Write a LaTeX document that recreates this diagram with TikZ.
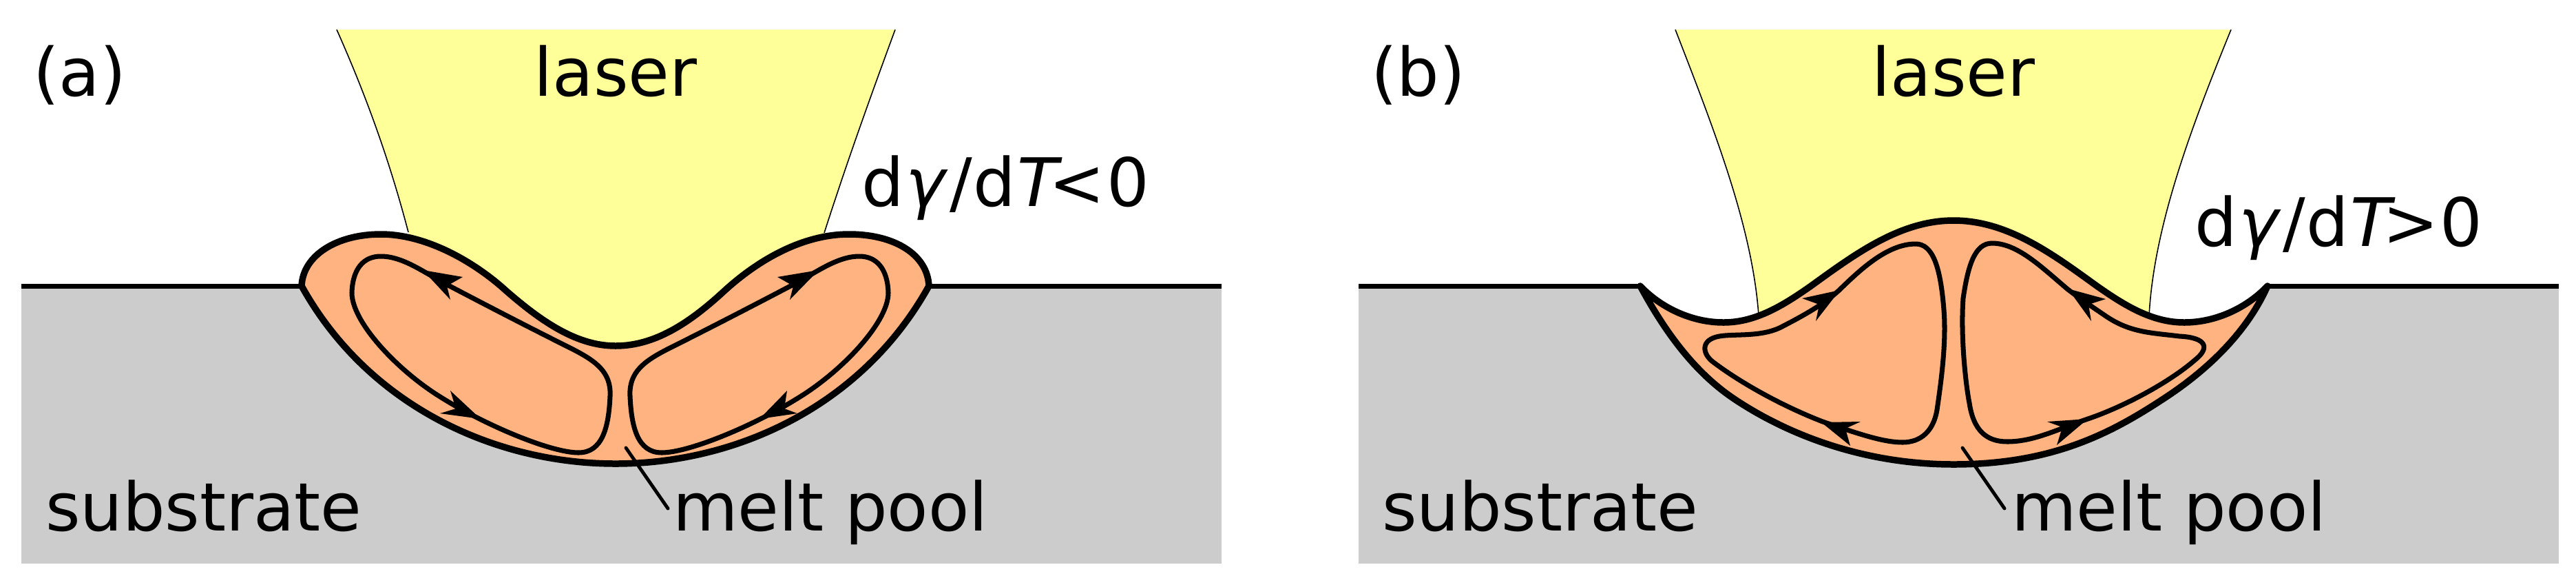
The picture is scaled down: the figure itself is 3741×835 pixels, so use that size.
\documentclass[tikz,border=0pt]{standalone}
\usepackage{fontspec}
\setmainfont{DejaVu Sans}
\definecolor{beamc}{HTML}{FFFF99}
\definecolor{poolc}{HTML}{FFB380}
\definecolor{subc}{HTML}{CCCCCC}
\newcommand{\dgdt}[1]{d\kern0.8pt\textit{γ}\kern0.6pt/\kern0.6pt d\kern0.6pt\textit{T}\kern-5.5pt#1\kern0.6pt0}
\tikzset{
  lbl/.style={font=\fontsize{27.6pt}{30pt}\selectfont,inner sep=0pt,outer sep=0pt,text=black},
  subst/.style={fill=subc,draw=none},
  surf/.style={draw=black,line width=2.0pt},
  beam/.style={fill=beamc,draw=none},
  beamedge/.style={draw=black,line width=0.45pt},
  pool/.style={fill=poolc,draw=black,line width=2.7pt,line join=round},
  flow/.style={draw=black,line width=2.0pt,line join=round},
  head/.style={fill=black,draw=none},
  leader/.style={draw=black,line width=1.4pt,line cap=round}
}
\begin{document}
\begin{tikzpicture}[x=0.01cm,y=-0.01cm]
\useasboundingbox (0,0) rectangle (3741,835);
% ---------- panel (a)
\fill[subst] (31,415) rectangle (1774,818);
\draw[surf] (31,415) -- (438,415);
\draw[surf] (1349,415) -- (1774,415);
\fill[beam] (489,43) -- (1300,43) .. controls (1265,138) and (1230,235) .. (1197,338) -- (1197,510) -- (593,510) -- (593,337) .. controls (565,230) and (530,135) .. (489,43) -- cycle;
\draw[beamedge] (489,43) .. controls (530,135) and (565,230) .. (593,337);
\draw[beamedge] (1300,43) .. controls (1265,138) and (1230,235) .. (1197,338);
\draw[pool] (438,415) .. controls (440,370) and (490,340) .. (553,340)
  .. controls (620,340) and (690,381) .. (735,422)
  .. controls (790,470) and (840,502) .. (894,502)
  .. controls (950,502) and (1000,470) .. (1051,423)
  .. controls (1100,378) and (1165,340) .. (1233,340)
  .. controls (1300,340) and (1347,370) .. (1349,415)
  .. controls (1252,590) and (1068,673) .. (894,673)
  .. controls (720,673) and (535,590) .. (438,415) -- cycle;
\draw[flow] (553,372) .. controls (528,372) and (512,390) .. (511,425)
  .. controls (511,465) and (570,530) .. (630,570)
  .. controls (700,616) and (800,657) .. (840,657)
  .. controls (875,657) and (884,620) .. (886,575)
  .. controls (888,540) and (865,524) .. (832,507)
  .. controls (770,476) and (710,445) .. (649,413)
  .. controls (615,395) and (585,372) .. (553,372) -- cycle;
\draw[flow] (1248,372) .. controls (1273,372) and (1289,390) .. (1290,425)
  .. controls (1290,465) and (1231,530) .. (1171,570)
  .. controls (1101,616) and (1001,657) .. (961,657)
  .. controls (926,657) and (917,620) .. (915,575)
  .. controls (913,540) and (936,524) .. (969,507)
  .. controls (1031,476) and (1091,445) .. (1152,413)
  .. controls (1186,395) and (1216,372) .. (1248,372) -- cycle;
\fill[head] (614,392) -- (672,402) -- (649,415) -- (654,435) -- cycle;
\fill[head] (698,608) -- (654,567) -- (662,593) -- (639,600) -- cycle;
\fill[head] (1189,392) -- (1129,402) -- (1152,415) -- (1147,435) -- cycle;
\fill[head] (1103,608) -- (1143,567) -- (1139,593) -- (1158,600) -- cycle;
\coordinate (leadAa) at (909,650);
\coordinate (leadAb) at (970,738);
\draw[leader] (leadAa) -- (leadAb);
\node[lbl,anchor=base west] (tagA) at (48,139) {(a)};
\node[lbl,anchor=base] (laserA) at (894,139) {laser};
\node[lbl,anchor=base west] (condA) at (1251,299) {\dgdt{<}};
\node[lbl,anchor=base west] (subA) at (66,770) {substrate};
\node[lbl,anchor=base west] (meltA) at (977,770) {melt pool};
% ---------- panel (b)
\fill[subst] (1973,415) rectangle (3716,818);
\fill[white] (3293,415) .. controls (3262,485) and (3202,540) .. (3140,580)
  .. controls (3065,629) and (2980,674) .. (2837,674)
  .. controls (2710,674) and (2600,633) .. (2520,580)
  .. controls (2470,547) and (2425,495) .. (2382,415) -- (2382,410) -- (3293,410) -- cycle;
\draw[surf] (1973,415) -- (2382,415);
\draw[surf] (3293,415) -- (3716,415);
\fill[beam] (2433,43) -- (3240,43) .. controls (3180,190) and (3128,330) .. (3121,458) -- (2554,458) .. controls (2545,330) and (2490,190) .. (2433,43) -- cycle;
\draw[beamedge] (2433,43) .. controls (2490,190) and (2545,330) .. (2554,458);
\draw[beamedge] (3240,43) .. controls (3180,190) and (3128,330) .. (3121,458);
\draw[pool] (2382,415) .. controls (2410,445) and (2455,468) .. (2503,468)
  .. controls (2550,468) and (2590,443) .. (2630,415)
  .. controls (2695,368) and (2760,320) .. (2837,320)
  .. controls (2915,320) and (2980,368) .. (3045,415)
  .. controls (3085,443) and (3125,468) .. (3172,468)
  .. controls (3220,468) and (3265,445) .. (3293,415)
  .. controls (3262,485) and (3202,540) .. (3140,580)
  .. controls (3065,629) and (2980,674) .. (2837,674)
  .. controls (2710,674) and (2600,633) .. (2520,580)
  .. controls (2470,547) and (2425,495) .. (2382,415) -- cycle;
\draw[flow] (2782,354) .. controls (2806,354) and (2818,385) .. (2823,450)
  .. controls (2827,500) and (2818,560) .. (2813,595)
  .. controls (2808,625) and (2790,642) .. (2763,642)
  .. controls (2735,642) and (2700,630) .. (2647,612)
  .. controls (2590,590) and (2530,557) .. (2490,527)
  .. controls (2472,515) and (2468,493) .. (2497,488)
  .. controls (2520,484) and (2560,490) .. (2590,473)
  .. controls (2625,455) and (2650,440) .. (2670,422)
  .. controls (2700,393) and (2740,354) .. (2782,354) -- cycle;
\draw[flow] (2893,353) .. controls (2868,353) and (2858,385) .. (2851,433)
  .. controls (2847,490) and (2855,560) .. (2860,585)
  .. controls (2866,625) and (2885,641) .. (2915,641)
  .. controls (2955,641) and (2990,622) .. (3032,608)
  .. controls (3085,590) and (3150,555) .. (3187,523)
  .. controls (3210,505) and (3205,490) .. (3165,488)
  .. controls (3125,483) and (3095,483) .. (3060,460)
  .. controls (3035,443) and (3020,433) .. (3003,420)
  .. controls (2965,388) and (2930,353) .. (2893,353) -- cycle;
\fill[head] (2672,421) -- (2617,433) -- (2642,442) -- (2637,466) -- cycle;
\fill[head] (2645,613) -- (2702,612) -- (2680,622) -- (2687,647) -- cycle;
\fill[head] (3003,419) -- (3058,434) -- (3033,442) -- (3037,466) -- cycle;
\fill[head] (3032,608) -- (2973,612) -- (2995,620) -- (2987,646) -- cycle;
\coordinate (leadBa) at (2850,650);
\coordinate (leadBb) at (2911,738);
\draw[leader] (leadBa) -- (leadBb);
\node[lbl,anchor=base west] (tagB) at (1991,139) {(b)};
\node[lbl,anchor=base] (laserB) at (2837,139) {laser};
\node[lbl,anchor=base west] (condB) at (3187,357) {\dgdt{>}};
\node[lbl,anchor=base west] (subB) at (2007,770) {substrate};
\node[lbl,anchor=base west] (meltB) at (2921,770) {melt pool};
\end{tikzpicture}
\end{document}
